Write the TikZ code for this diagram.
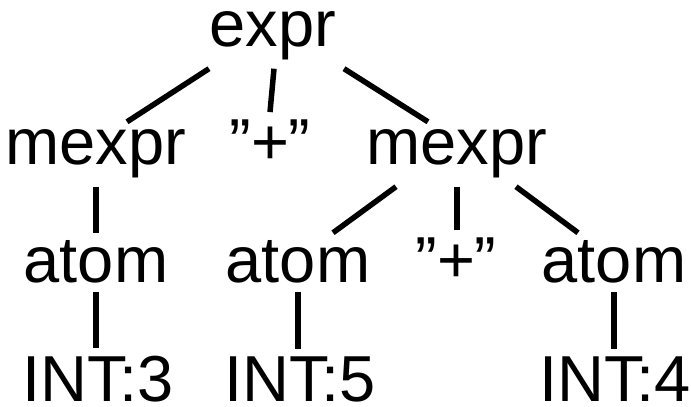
\documentclass[tikz,border=0pt]{standalone}
\usepackage{fontspec}
\setmainfont{Liberation Sans}
\tikzset{
    sym/.style={anchor=base, inner xsep=0pt, inner ysep=8pt, font=\fontsize{65}{70}\selectfont},
    branch/.style={line width=5.5pt}
}

\begin{document}
\begin{tikzpicture}[x=1pt, y=1pt]
    \useasboundingbox (0, 0) rectangle (691, 407);

    \node[sym] (expr) at (273, 360) {expr};

    \node[sym] (mexprL) at (96, 242) {mexpr};
    \node[sym] (plusA) at (270, 242) {”+”};
    \node[sym] (mexprR) at (457, 242) {mexpr};

    \node[sym] (atomL) at (96, 124) {atom};
    \node[sym] (atomM) at (298, 124) {atom};
    \node[sym] (plusB) at (456, 124) {”+”};
    \node[sym] (atomR) at (614, 124) {atom};

    \node[sym] (intA) at (98, 5) {INT:3};
    \node[sym] (intB) at (300, 5) {INT:5};
    \node[sym] (intC) at (615, 5) {INT:4};

    \draw[branch] ([xshift=-64]expr.south) -- ([xshift=31]mexprL.north);
    \draw[branch] ([xshift=1]expr.south) -- (plusA.north);
    \draw[branch] ([xshift=71]expr.south) -- ([xshift=-29]mexprR.north);

    \draw[branch] (mexprL.south) -- (mexprL.south |- atomL.north);
    \draw[branch] ([xshift=-61]mexprR.south) -- ([xshift=35]atomM.north);
    \draw[branch] (mexprR.south) -- (mexprR.south |- plusB.north);
    \draw[branch] ([xshift=59]mexprR.south) -- ([xshift=-36]atomR.north);

    \draw[branch] (atomL.south) -- (atomL.south |- intA.north);
    \draw[branch] (atomM.south) -- (atomM.south |- intB.north);
    \draw[branch] (atomR.south) -- (atomR.south |- intC.north);
\end{tikzpicture}
\end{document}
